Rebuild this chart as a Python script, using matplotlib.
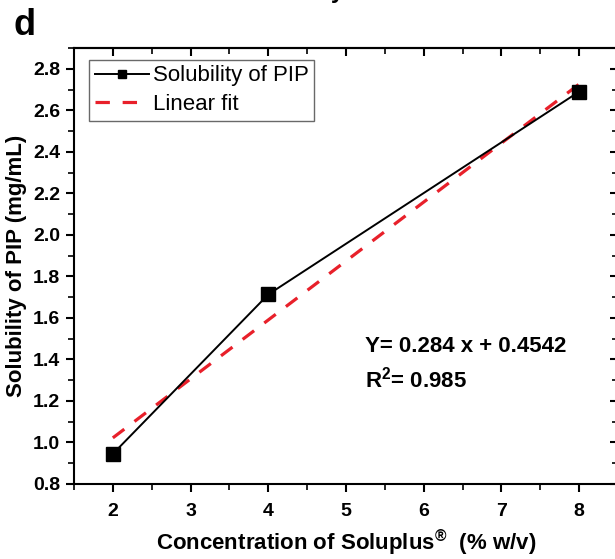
import matplotlib
matplotlib.use("Agg")
import matplotlib.pyplot as plt
import numpy as np

plt.rcParams['font.family'] = ['Liberation Sans', 'DejaVu Sans']
plt.rcParams['mathtext.fontset'] = 'custom'
plt.rcParams['mathtext.rm'] = 'Liberation Sans'
plt.rcParams['mathtext.bf'] = 'Liberation Sans:bold'
plt.rcParams['mathtext.it'] = 'Liberation Sans:italic'

# Data
concentration = [2, 4, 8]
solubility = [0.945, 1.713, 2.69]
slope = 0.284
intercept = 0.4542
r2 = 0.985
xticks = [2, 3, 4, 5, 6, 7, 8]
yticks = [0.8, 1.0, 1.2, 1.4, 1.6, 1.8, 2.0, 2.2, 2.4, 2.6, 2.8]

fig = plt.figure(figsize=(6.15, 5.59), dpi=100)
ax = fig.add_axes([0.1203, 0.1342, 1.005 - 0.1203, 0.9141 - 0.1342])

fit_x = np.array([concentration[0], concentration[-1]])
fit_y = slope * fit_x + intercept

ax.plot(concentration, solubility, color='black', lw=1.4, marker='s',
        markersize=9.5, label='Solubility of PIP', zorder=3)
ax.plot(fit_x, fit_y, color='#e8202a', lw=2.3, linestyle=(0, (4.5, 4)),
        label='Linear fit', zorder=2)

ax.set_xlim(1.5, 8.5)
ax.set_ylim(0.8, 2.9)
ax.set_xticks(xticks)
ax.set_yticks(yticks)
ax.set_xticks(np.arange(1.5, 8.6, 0.5), minor=True)
ax.set_yticks(np.arange(0.8, 2.91, 0.1), minor=True)
ax.set_xticklabels([str(v) for v in xticks], fontweight='bold', fontsize=14)
ax.set_yticklabels([f"{v:.1f}" for v in yticks], fontweight='bold', fontsize=14)
ax.tick_params(which='major', direction='out', length=6, width=1.5, pad=4)
ax.tick_params(axis='x', which='major', pad=8)
ax.tick_params(which='minor', direction='out', length=4, width=1.2)
for s in ax.spines.values():
    s.set_linewidth(1.5)

# inward ticks on top and right
top = ax.secondary_xaxis('top')
top.set_xticks(xticks)
top.set_xticks(np.arange(1.5, 8.6, 0.5), minor=True)
top.tick_params(which='major', direction='in', length=6, width=1.5, labeltop=False)
top.tick_params(which='minor', direction='in', length=4, width=1.2)
top.spines['top'].set_linewidth(1.5)
right = ax.secondary_yaxis('right')
right.set_yticks(yticks)
right.set_yticks(np.arange(0.8, 2.91, 0.1), minor=True)
right.tick_params(which='major', direction='in', length=6, width=1.5, labelright=False)
right.tick_params(which='minor', direction='in', length=4, width=1.2)

ax.set_xlabel('Concentration of Soluplus$^{\\mathbf{®}}$  (% w/v)', fontsize=16,
              fontweight='bold', labelpad=5)
ax.set_ylabel('Solubility of PIP (mg/mL)', fontsize=16, fontweight='bold', labelpad=4)

leg = ax.legend(loc='upper left', bbox_to_anchor=(0.028, 0.973), fontsize=16,
                frameon=True, fancybox=False, edgecolor='#444444',
                handlelength=2.45, handletextpad=0.15, borderpad=0.25,
                labelspacing=0.35, borderaxespad=0, markerscale=0.62)
leg.get_frame().set_linewidth(1.0)

ax.text(0.535, 0.302, f'Y= {slope} x + {intercept}', transform=ax.transAxes,
        fontsize=16, fontweight='bold')
ax.text(0.535, 0.222, f'R$^\\mathbf{{2}}$= {r2}', transform=ax.transAxes,
        fontsize=16, fontweight='bold')

fig.text(0.022, 0.955, 'd', fontsize=26, fontweight='bold', va='center')
fig.text(0.56, 1.003, 'Solubility', fontsize=17, fontweight='bold', ha='right', va='baseline')

fig.savefig('out.png', dpi=100)
